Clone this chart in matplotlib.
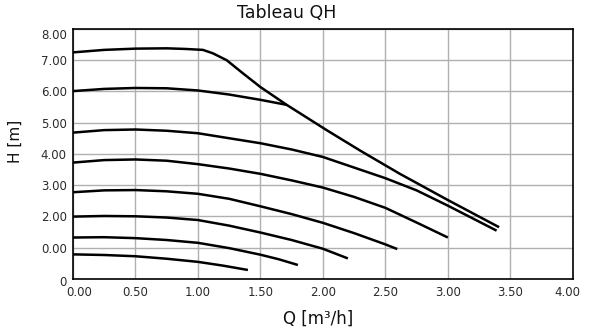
import matplotlib
matplotlib.use("Agg")
import matplotlib.pyplot as plt
import matplotlib.transforms as mtransforms

plt.rcParams['font.family'] = ['DejaVu Sans']

# Data
q_max = [0.0, 0.25, 0.5, 0.75, 0.9, 1.04, 1.12, 1.23, 1.36, 1.5, 1.71, 2.03, 2.3, 2.616, 3.0, 3.41]
h_max = [7.25, 7.33, 7.37, 7.38, 7.36, 7.33, 7.22, 7.00, 6.58, 6.14, 5.57, 4.76, 4.10, 3.36, 2.52, 1.65]

q_c2 = [0.0, 0.25, 0.5, 0.75, 1.0, 1.25, 1.5, 1.71]
h_c2 = [6.01, 6.08, 6.11, 6.10, 6.03, 5.90, 5.73, 5.57]

q_c3 = [0.0, 0.25, 0.5, 0.75, 1.0, 1.25, 1.5, 1.75, 2.0, 2.25, 2.5, 2.75, 3.0, 3.2, 3.39]
h_c3 = [4.68, 4.76, 4.78, 4.74, 4.66, 4.50, 4.34, 4.14, 3.90, 3.56, 3.22, 2.83, 2.34, 1.93, 1.54]

q_c4 = [0.0, 0.25, 0.5, 0.75, 1.0, 1.25, 1.5, 1.75, 2.0, 2.25, 2.5, 2.75, 3.0]
h_c4 = [3.72, 3.80, 3.82, 3.78, 3.67, 3.53, 3.36, 3.15, 2.92, 2.62, 2.27, 1.80, 1.32]

q_c5 = [0.0, 0.25, 0.5, 0.75, 1.0, 1.25, 1.5, 1.75, 2.0, 2.25, 2.5, 2.595]
h_c5 = [2.77, 2.83, 2.84, 2.80, 2.72, 2.56, 2.32, 2.07, 1.79, 1.46, 1.10, 0.95]

q_c6 = [0.0, 0.25, 0.5, 0.75, 1.0, 1.25, 1.5, 1.75, 2.0, 2.2]
h_c6 = [1.99, 2.01, 2.00, 1.96, 1.88, 1.70, 1.48, 1.24, 0.96, 0.65]

q_c7 = [0.0, 0.25, 0.5, 0.75, 1.0, 1.25, 1.5, 1.65, 1.8]
h_c7 = [1.32, 1.33, 1.30, 1.24, 1.15, 0.98, 0.77, 0.62, 0.44]

q_c8 = [0.0, 0.25, 0.5, 0.75, 1.0, 1.2, 1.4]
h_c8 = [0.78, 0.76, 0.72, 0.64, 0.54, 0.42, 0.28]

x_ticks = [0, 0.5, 1.0, 1.5, 2.0, 2.5, 3.0, 3.5, 4.0]
x_tick_labels = ['0.00', '0.50', '1.00', '1.50', '2.00', '2.50', '3.00', '3.50', '4.00']
y_ticks = [0, 1, 2, 3, 4, 5, 6, 7, 8]
y_tick_labels = ['0', '0.00', '2.00', '3.00', '4.00', '5.00', '6.00', '7.00', '8.00']

title = 'Tableau QH'
x_label = 'Q [m³/h]'
y_label = 'H [m]'

fig = plt.figure(figsize=(5.93, 3.33), dpi=100)
ax = fig.add_axes([0.123, 0.163, 0.843, 0.750])

series = [(q_max, h_max), (q_c2, h_c2), (q_c3, h_c3), (q_c4, h_c4),
          (q_c5, h_c5), (q_c6, h_c6), (q_c7, h_c7), (q_c8, h_c8)]
for q, h in series:
    ax.plot(q, h, color='black', lw=1.8, solid_capstyle='butt', solid_joinstyle='round', zorder=3)

ax.set_xlim(0, 4)
ax.set_ylim(0, 8)
ax.set_xticks(x_ticks)
ax.set_xticklabels(x_tick_labels)
ax.set_yticks(y_ticks)
ax.set_yticklabels(y_tick_labels)
ax.tick_params(length=0, labelsize=8.5, colors='#2a2a2a')
ax.tick_params(axis='x', pad=5)
ax.tick_params(axis='y', pad=4.5)
ax.grid(True, color='#b0b0b0', lw=1.0)
ax.set_axisbelow(True)
for s in ax.spines.values():
    s.set_color('black')
    s.set_linewidth(1.2)

# edge tick labels pulled inward as in the reference
def shift(label, dx_px, dy_px):
    label.set_transform(label.get_transform() +
                        mtransforms.ScaledTranslation(dx_px / 100, dy_px / 100, fig.dpi_scale_trans))

xl = ax.get_xticklabels()
shift(xl[0], 6, 0)
shift(xl[-1], -5, 0)
yl = ax.get_yticklabels()
shift(yl[-1], 0, -5)
shift(yl[0], 0, -2)

ax.set_title(title, fontsize=12.5, pad=8, color='#111111', x=0.428)
ax.set_xlabel(x_label, fontsize=12, labelpad=8, color='#111111')
ax.xaxis.label.set_x(0.49)
ax.set_ylabel(y_label, fontsize=11, labelpad=8, color='#111111')
ax.yaxis.set_label_coords(-0.1, 0.551)

fig.savefig('out.png', dpi=100)
